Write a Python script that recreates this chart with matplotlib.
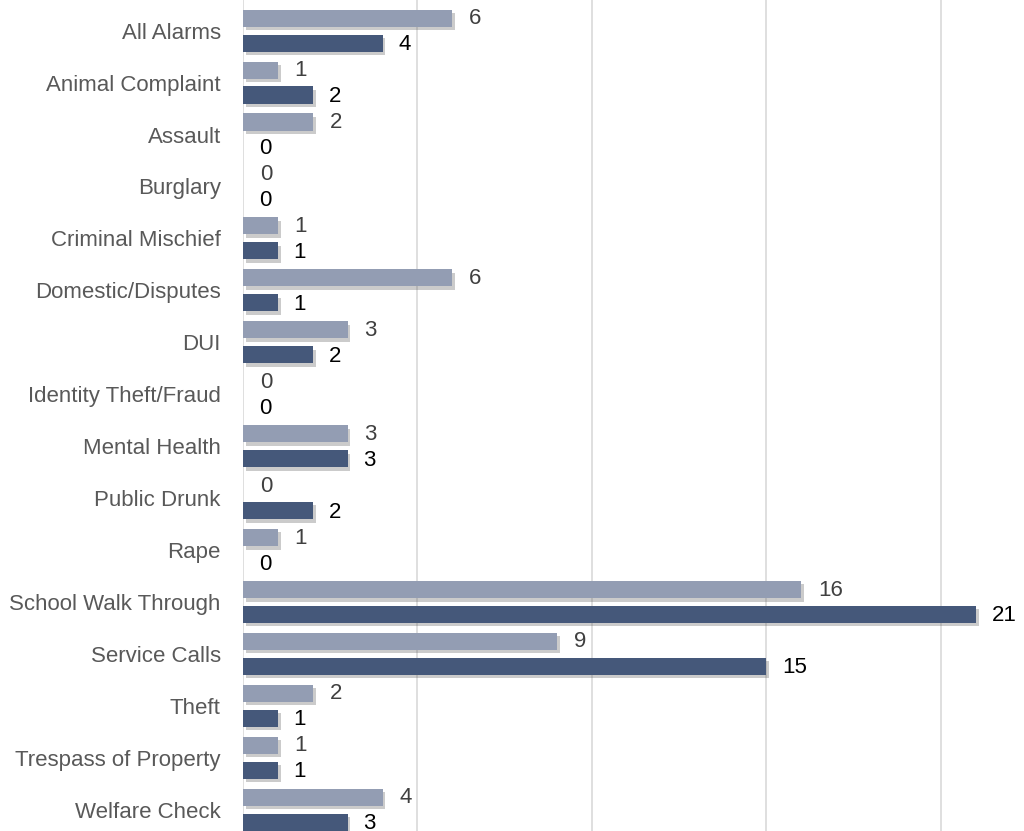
import numpy as np
import matplotlib
matplotlib.use('Agg')
from matplotlib import pyplot as plt
import matplotlib.patheffects as pe

categories = ['All Alarms', 'Animal Complaint', 'Assault', 'Burglary', 'Criminal Mischief',
              'Domestic/Disputes', 'DUI', 'Identity Theft/Fraud', 'Mental Health',
              'Public Drunk', 'Rape', 'School Walk Through', 'Service Calls', 'Theft',
              'Trespass of Property', 'Welfare Check']
series_light = [6, 1, 2, 0, 1, 6, 3, 0, 3, 0, 1, 16, 9, 2, 1, 4]
series_dark = [4, 2, 0, 0, 1, 1, 2, 0, 3, 2, 0, 21, 15, 1, 1, 3]

light_col = '#939db3'
dark_col = '#45587a'

plt.rcParams['font.family'] = ['Liberation Sans', 'DejaVu Sans']

fig = plt.figure(figsize=(10.24, 8.31), dpi=100)
ax = fig.add_axes([243 / 1024, 0, 781 / 1024, 1])

y = np.arange(len(categories))
h = 0.33
off = 0.24
shadow = [pe.SimplePatchShadow(offset=(2, -2.5), alpha=0.3, shadow_rgbFace='#555555'), pe.Normal()]

b1 = ax.barh(y - off, series_light, height=h, color=light_col, zorder=3)
b2 = ax.barh(y + off, series_dark, height=h, color=dark_col, zorder=3)
for b in list(b1) + list(b2):
    if b.get_width() > 0:
        b.set_path_effects(shadow)

for yi, v in zip(y, series_light):
    ax.text(v + 0.48, yi - off + 0.01, str(v), va='center', ha='left', fontsize=16, color='#404040')
for yi, v in zip(y, series_dark):
    ax.text(v + 0.45, yi + off + 0.03, str(v), va='center', ha='left', fontsize=16, color='#000000')

ax.set_xlim(0, 22.38)
ax.set_ylim(len(categories) - 0.5 - 0.09, -0.5 - 0.09)
ax.set_yticks(y)
ax.set_yticklabels(categories, fontsize=16, color='#595959')
ax.tick_params(axis='y', length=0, pad=16)
ax.set_xticks([0, 5, 10, 15, 20])
ax.tick_params(axis='x', length=0, labelbottom=False)
ax.grid(axis='x', color='#d9d9d9', linewidth=1.2, zorder=0)
for s in ax.spines.values():
    s.set_visible(False)

fig.savefig('out.png', dpi=100)
